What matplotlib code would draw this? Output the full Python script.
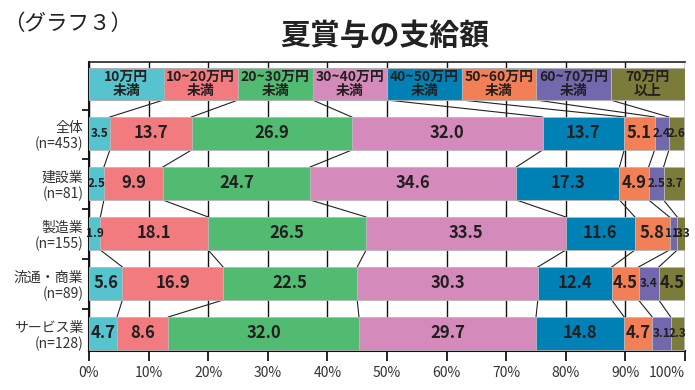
import matplotlib
matplotlib.use("Agg")
import matplotlib.pyplot as plt
from matplotlib import font_manager
import numpy as np

plt.rcParams['font.family'] = ['Noto Sans CJK JP', 'DejaVu Sans']

categories = ["全体\n(n=453)", "建設業\n(n=81)", "製造業\n(n=155)", "流通・商業\n(n=89)", "サービス業\n(n=128)"]
series_names = ["10万円\n未満", "10~20万円\n未満", "20~30万円\n未満", "30~40万円\n未満",
                "40~50万円\n未満", "50~60万円\n未満", "60~70万円\n未満", "70万円\n以上"]
values = [
    [3.5, 13.7, 26.9, 32.0, 13.7, 5.1, 2.4, 2.6],
    [2.5, 9.9, 24.7, 34.6, 17.3, 4.9, 2.5, 3.7],
    [1.9, 18.1, 26.5, 33.5, 11.6, 5.8, 1.3, 1.3],
    [5.6, 16.9, 22.5, 30.3, 12.4, 4.5, 3.4, 4.5],
    [4.7, 8.6, 32.0, 29.7, 14.8, 4.7, 3.1, 2.3],
]
colors = ["#55C4CF", "#F27B80", "#52BB72", "#D48BBB", "#0081B5", "#F37F56", "#7168AE", "#7B7B3A"]
xticks = [0, 10, 20, 30, 40, 50, 60, 70, 80, 90, 100]
xticklabels = [f"{t}%" for t in xticks]

names = {f.name for f in font_manager.fontManager.ttflist}
narrow = "Liberation Sans Narrow" if "Liberation Sans Narrow" in names else (
    "DejaVu Sans Condensed" if "DejaVu Sans Condensed" in names else "Noto Sans CJK JP")

fig = plt.figure(figsize=(6.95, 3.9), dpi=100)
ax = fig.add_axes([89/695, 1-351/390, 596/695, (351-62)/390])

bar_h = 0.66
head_y = -0.99
head_h = 0.64
txt = "#231F20"

vals = np.array(values)
n_rows, n_ser = vals.shape
hw = 100 / n_ser
for k in range(n_ser):
    ax.barh(head_y, hw, left=k*hw, height=head_h, color=colors[k], edgecolor="#b0b0b0", linewidth=0.8, zorder=3)
    ax.text(k*hw + hw/2, head_y, series_names[k], ha="center", va="center", fontsize=10,
            fontweight="bold", color=txt, linespacing=0.95, zorder=4)

for i in range(n_rows):
    left = 0
    for k in range(n_ser):
        v = vals[i, k]
        ax.barh(i, v, left=left, height=bar_h, color=colors[k], edgecolor="#b8b8b8", linewidth=0.6, zorder=3)
        if v >= 4:
            ax.text(left + v/2, i, f"{v:.1f}", ha="center", va="center", fontsize=12,
                    fontweight="bold", color=txt, zorder=4)
        else:
            ax.text(left + v/2, i, f"{v:.1f}", ha="center", va="center", fontsize=8.5,
                    fontweight="bold", color=txt, zorder=4, family=[narrow, "DejaVu Sans"])
        left += v

cum = np.cumsum(vals, axis=1)
for k in range(n_ser - 1):
    ax.plot([(k+1)*hw, cum[0, k]], [head_y + head_h/2, 0 - bar_h/2], color="#222222", lw=0.8, zorder=2)
    for i in range(n_rows - 1):
        ax.plot([cum[i, k], cum[i+1, k]], [i + bar_h/2, i + 1 - bar_h/2], color="#222222", lw=0.8, zorder=2)

ax.set_xlim(0, 100)
ax.set_ylim(4.35, -1.43)
for x in xticks:
    ax.axvline(x, color="#111111", lw=1.0, zorder=1)

ax.set_xticks(xticks)
ax.set_xticklabels(xticklabels, fontsize=10, color="#333333")
ax.get_xticklabels()[-1].set_horizontalalignment("right")
ax.tick_params(axis="x", direction="out", length=7, width=1.2, pad=4)

ax.set_yticks(range(n_rows))
ax.set_yticklabels(categories, fontsize=10, color="#333333", linespacing=1.15)
ax.tick_params(axis="y", which="major", length=0, pad=4)
ax.set_yticks([-0.47, 0.5, 1.5, 2.5, 3.5], minor=True)
ax.tick_params(axis="y", which="minor", direction="out", length=5, width=1.2)

for s in ["left", "bottom"]:
    ax.spines[s].set_linewidth(1.5)
    ax.spines[s].set_color("#111111")
ax.spines["top"].set_linewidth(1.2)
ax.spines["top"].set_color("#222222")
ax.spines["right"].set_visible(False)

fig.text(3/695, 1-24/390, "（グラフ３）", fontsize=15.5, color="#222222", va="center", ha="left")
fig.text(385/695, 1-36/390, "夏賞与の支給額", fontsize=21.5, fontweight="bold", color="#222222",
         va="center", ha="center")

fig.savefig("out.png", dpi=100)
